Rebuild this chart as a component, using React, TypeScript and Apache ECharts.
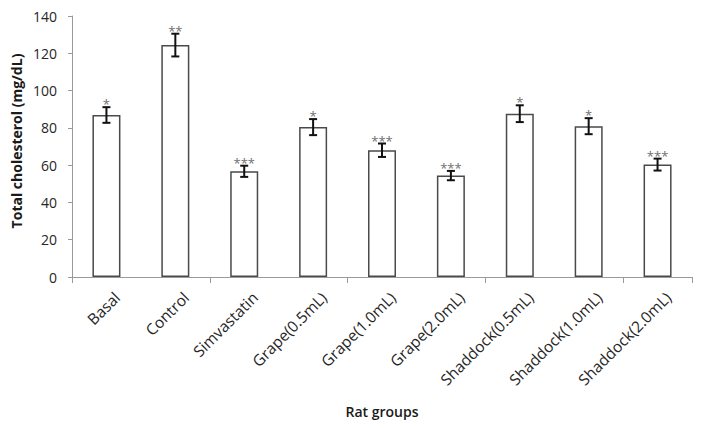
import React, { useEffect, useRef } from "react";
import * as echarts from "echarts";

const categories = [
  "Basal",
  "Control",
  "Simvastatin",
  "Grape(0.5mL)",
  "Grape(1.0mL)",
  "Grape(2.0mL)",
  "Shaddock(0.5mL)",
  "Shaddock(1.0mL)",
  "Shaddock(2.0mL)",
];
const means = [86.9, 124.4, 56.7, 80.4, 68.0, 54.4, 87.6, 80.9, 60.3];
const errors = [4.2, 6.1, 3.0, 4.3, 3.6, 2.5, 4.5, 4.3, 3.2];
const significance = ["*", "**", "***", "*", "***", "***", "*", "*", "***"];
const yMin = 0;
const yMax = 140;
const yStep = 20;
const yTitle = "Total cholesterol (mg/dL)";
const xTitle = "Rat groups";

const FONT = "'Open Sans', 'Noto Sans', sans-serif";

export default function App() {
  const ref = useRef<HTMLDivElement>(null);
  useEffect(() => {
    document.body.style.margin = "0";
    const chart = echarts.init(ref.current!, null, { renderer: "svg" });
    const errData = means.map((m, i) => [i, m, errors[i]]);
    chart.setOption({
      animation: false,
      backgroundColor: "#ffffff",
      grid: [
        { left: 72, right: 10, top: 16, bottom: 153, containLabel: false },
        { left: 77, right: 5, top: 16, bottom: 153, containLabel: false },
      ],
      xAxis: [
        {
          type: "category",
          gridIndex: 0,
          data: categories,
          boundaryGap: true,
          axisLine: { show: true, lineStyle: { color: "#9a9a9a", width: 1 } },
          axisTick: { show: true, length: 6, alignWithLabel: false, lineStyle: { color: "#9a9a9a" } },
          axisLabel: { show: false },
          splitLine: { show: false },
        },
        {
          type: "category",
          gridIndex: 1,
          data: categories,
          boundaryGap: true,
          axisLine: { show: false },
          axisTick: { show: false },
          axisLabel: {
            interval: 0,
            rotate: 45,
            margin: 12,
            align: "right",
            verticalAlign: "top",
            color: "#262626",
            fontFamily: FONT,
            fontSize: 15.5,
          },
          splitLine: { show: false },
        },
      ],
      yAxis: [
        {
          type: "value",
          gridIndex: 0,
          min: yMin,
          max: yMax,
          interval: yStep,
          axisLine: { show: true, lineStyle: { color: "#9a9a9a", width: 1 } },
          axisTick: { show: true, length: 4, lineStyle: { color: "#9a9a9a" } },
          axisLabel: { margin: 15, color: "#262626", fontFamily: FONT, fontSize: 14 },
          splitLine: { show: false },
        },
        {
          type: "value",
          gridIndex: 1,
          min: yMin,
          max: yMax,
          interval: yStep,
          show: false,
        },
      ],
      graphic: [
        {
          type: "text",
          x: 16.5,
          y: 141,
          rotation: Math.PI / 2,
          style: {
            text: yTitle,
            align: "center",
            verticalAlign: "middle",
            fill: "#1a1a1a",
            font: `bold 14px ${FONT}`,
          },
        },
        {
          type: "text",
          x: 382,
          y: 411,
          style: {
            text: xTitle,
            align: "center",
            verticalAlign: "middle",
            fill: "#1a1a1a",
            font: `600 14px ${FONT}`,
          },
        },
      ],
      series: [
        {
          type: "bar",
          xAxisIndex: 0,
          yAxisIndex: 0,
          data: means,
          barWidth: 28,
          itemStyle: { color: "#ffffff", borderColor: "#4a4a4a", borderWidth: 1.5 },
          z: 2,
        },
        {
          type: "custom",
          xAxisIndex: 0,
          yAxisIndex: 0,
          data: errData,
          z: 5,
          renderItem: (params: any, api: any) => {
            const i = api.value(0);
            const m = api.value(1);
            const e = api.value(2);
            const top = api.coord([i, m + e]);
            const bot = api.coord([i, m - e]);
            const x = top[0];
            const cap = 4;
            const style = { stroke: "#111111", lineWidth: 2 };
            return {
              type: "group",
              children: [
                { type: "line", shape: { x1: x, y1: top[1], x2: x, y2: bot[1] }, style },
                { type: "line", shape: { x1: x - cap, y1: top[1], x2: x + cap, y2: top[1] }, style },
                { type: "line", shape: { x1: x - cap, y1: bot[1], x2: x + cap, y2: bot[1] }, style },
                {
                  type: "text",
                  x: x,
                  y: top[1] - 3,
                  style: {
                    text: significance[params.dataIndex],
                    align: "center",
                    verticalAlign: "middle",
                    fill: "#707070",
                    font: `13px ${FONT}`,
                  },
                },
              ],
            };
          },
        },
      ],
    });
    return () => chart.dispose();
  }, []);
  return <div ref={ref} style={{ width: 702, height: 430 }} />;
}
